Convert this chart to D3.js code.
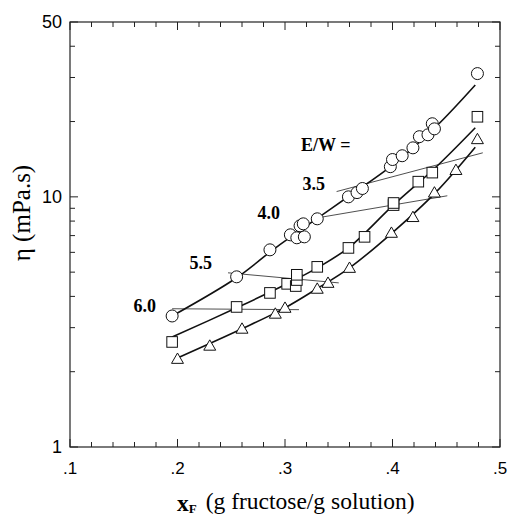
<!DOCTYPE html>
<html>
<head>
<meta charset="utf-8">
<script src="https://cdn.jsdelivr.net/npm/d3@7"></script>
<style>
  body { margin: 0; background: #fff; }
  svg { display: block; }
</style>
</head>
<body>
<svg id="chart" width="508" height="517"></svg>
<script>
// measured points, circles / squares / triangles
var circleX = [0.195, 0.255, 0.286, 0.305, 0.311, 0.318, 0.314, 0.317, 0.330, 0.359, 0.367, 0.372, 0.398, 0.400, 0.409, 0.419, 0.425, 0.433, 0.437, 0.439, 0.479]
var circleY = [3.34, 4.79, 6.14, 7.05, 6.86, 6.92, 7.66, 7.80, 8.17, 10.0, 10.4, 10.8, 13.2, 14.1, 14.6, 15.7, 17.4, 17.7, 19.6, 18.7, 31.1]

var squareX = [0.195, 0.255, 0.286, 0.302, 0.310, 0.311, 0.311, 0.330, 0.359, 0.374, 0.401, 0.401, 0.424, 0.437, 0.479]
var squareY = [2.63, 3.63, 4.13, 4.49, 4.40, 4.65, 4.88, 5.25, 6.25, 6.92, 9.27, 9.45, 11.5, 12.5, 20.9]

var triX = [0.200, 0.230, 0.260, 0.291, 0.300, 0.330, 0.340, 0.360, 0.399, 0.419, 0.439, 0.459, 0.479]
var triY = [2.25, 2.54, 2.97, 3.41, 3.60, 4.29, 4.53, 5.20, 7.18, 8.30, 10.4, 12.8, 17.0]

// fitted curves
var fitCircleX = [0.195, 0.255, 0.290, 0.330, 0.360, 0.400, 0.440, 0.477]
var fitCircleY = [3.34, 4.75, 6.2, 8.2, 10.1, 13.4, 19.0, 28.0]
var fitSquareX = [0.195, 0.255, 0.300, 0.330, 0.360, 0.400, 0.440, 0.477]
var fitSquareY = [2.75, 3.6, 4.45, 5.2, 6.3, 9.2, 13.1, 18.9]
var fitTriX = [0.200, 0.260, 0.300, 0.330, 0.360, 0.400, 0.440, 0.477]
var fitTriY = [2.27, 2.97, 3.6, 4.3, 5.2, 7.2, 10.4, 15.8]

// E/W iso lines
var isoNames = ['6.0', '5.5', '4.0', '3.5']
var isoX = [[0.195, 0.313], [0.247, 0.350], [0.330, 0.451], [0.348, 0.484]]
var isoY = [[3.57, 3.54], [4.97, 4.53], [8.24, 10.1], [10.5, 15.0]]

var xTicks = [0.1, 0.2, 0.3, 0.4, 0.5]
var xTickLabels = ['.1', '.2', '.3', '.4', '.5']
var xMinor = [0.12, 0.14, 0.16, 0.18, 0.22, 0.24, 0.26, 0.28, 0.32, 0.34, 0.36, 0.38, 0.42, 0.44, 0.46, 0.48]
var yTicks = [1, 10, 50]
var yTickLabels = ['1', '10', '50']
var yMinor = [2, 3, 4, 5, 6, 7, 8, 9, 20, 30, 40]

var pLeft = 70, pRight = 500, pTop = 22, pBottom = 447

var x_scale = d3.scaleLinear().domain([0.1, 0.5]).range([pLeft, pRight])
var y_scale = d3.scaleLog().domain([1, 50]).range([pBottom, pTop])

var svg = d3.select('#chart')
var serif = '"Liberation Serif", "Times New Roman", serif'
var sans = '"Liberation Sans", Arial, sans-serif'

function zip(xs, ys){
    return xs.map(function(v, i){ return {x: v, y: ys[i]} })
}

// frame
svg.append('rect')
    .attr('x', pLeft).attr('y', pTop)
    .attr('width', pRight - pLeft).attr('height', pBottom - pTop)
    .attr('fill', 'none').attr('stroke', '#222').attr('stroke-width', 1.2)

// ticks, inside on all four sides
var tickG = svg.append('g').attr('stroke', '#222').attr('stroke-width', 1)
xTicks.concat(xMinor).forEach(function(t){
    var len = xTicks.indexOf(t) >= 0 ? 8 : 5
    tickG.append('line').attr('x1', x_scale(t)).attr('x2', x_scale(t)).attr('y1', pBottom).attr('y2', pBottom - len)
    tickG.append('line').attr('x1', x_scale(t)).attr('x2', x_scale(t)).attr('y1', pTop).attr('y2', pTop + len)
})
yTicks.concat(yMinor).forEach(function(t){
    var len = yTicks.indexOf(t) >= 0 ? 8 : 5
    tickG.append('line').attr('y1', y_scale(t)).attr('y2', y_scale(t)).attr('x1', pLeft).attr('x2', pLeft + len)
    tickG.append('line').attr('y1', y_scale(t)).attr('y2', y_scale(t)).attr('x1', pRight).attr('x2', pRight - len)
})

// tick labels
svg.append('g').selectAll('text').data(xTicks).join('text')
    .attr('x', d => x_scale(d)).attr('y', 474)
    .attr('text-anchor', 'middle')
    .style('font-family', sans).style('font-size', '17px')
    .text((d, i) => xTickLabels[i])

svg.append('g').selectAll('text').data(yTicks).join('text')
    .attr('x', 62).attr('y', d => y_scale(d))
    .attr('dy', '0.36em')
    .attr('text-anchor', 'end')
    .style('font-family', sans).style('font-size', '18px')
    .text((d, i) => yTickLabels[i])

// axis titles
var xt = svg.append('text').attr('x', 177).attr('y', 509)
    .style('font-family', serif).style('font-size', '23.5px')
xt.append('tspan').attr('font-weight', 'bold').attr('dy', 2).text('x')
xt.append('tspan').attr('font-weight', 'bold').attr('font-size', '13px').attr('dy', 2).text('F')
xt.append('tspan').attr('dy', -4).attr('dx', 9).text('(g fructose/g solution)')

svg.append('text')
    .attr('transform', 'translate(30,213) rotate(-90)')
    .attr('text-anchor', 'middle')
    .style('font-family', serif).style('font-size', '25px')
    .text('η (mPa.s)')

// thin E/W lines
var line = d3.line().x(d => x_scale(d.x)).y(d => y_scale(d.y))
isoX.forEach(function(xs, i){
    svg.append('path')
        .datum(zip(xs, isoY[i]))
        .attr('d', line)
        .attr('fill', 'none')
        .attr('stroke', '#222')
        .attr('stroke-width', 0.8)
})

// fitted curves
var curve = d3.line().x(d => x_scale(d.x)).y(d => y_scale(d.y)).curve(d3.curveCatmullRom)
var fits = [[fitCircleX, fitCircleY], [fitSquareX, fitSquareY], [fitTriX, fitTriY]]
fits.forEach(function(f){
    svg.append('path')
        .datum(zip(f[0], f[1]))
        .attr('d', curve)
        .attr('fill', 'none')
        .attr('stroke', '#111')
        .attr('stroke-width', 1.6)
})

// markers
svg.append('g').selectAll('circle').data(zip(circleX, circleY)).join('circle')
    .attr('cx', d => x_scale(d.x)).attr('cy', d => y_scale(d.y)).attr('r', 6)
    .attr('fill', '#fff').attr('stroke', '#111').attr('stroke-width', 1)

svg.append('g').selectAll('rect').data(zip(squareX, squareY)).join('rect')
    .attr('x', d => x_scale(d.x) - 5.3).attr('y', d => y_scale(d.y) - 5.3)
    .attr('width', 10.6).attr('height', 10.6)
    .attr('fill', '#fff').attr('stroke', '#111').attr('stroke-width', 1)

var tri = d3.symbol().type(d3.symbolTriangle).size(62)
svg.append('g').selectAll('path').data(zip(triX, triY)).join('path')
    .attr('d', tri)
    .attr('transform', d => 'translate(' + x_scale(d.x) + ',' + (y_scale(d.y) + 1) + ')')
    .attr('fill', '#fff').attr('stroke', '#111').attr('stroke-width', 1)

// E/W labels
var labelPos = [[156, 312], [212, 269], [280, 219], [325, 190]]
isoNames.forEach(function(n, i){
    svg.append('text')
        .attr('x', labelPos[i][0]).attr('y', labelPos[i][1])
        .attr('text-anchor', 'end')
        .style('font-family', serif).style('font-size', '18px').style('font-weight', 'bold')
        .text(n)
})
svg.append('text').attr('x', 301).attr('y', 151)
    .style('font-family', serif).style('font-size', '18px').style('font-weight', 'bold')
    .text('E/W =')
</script>
</body>
</html>
